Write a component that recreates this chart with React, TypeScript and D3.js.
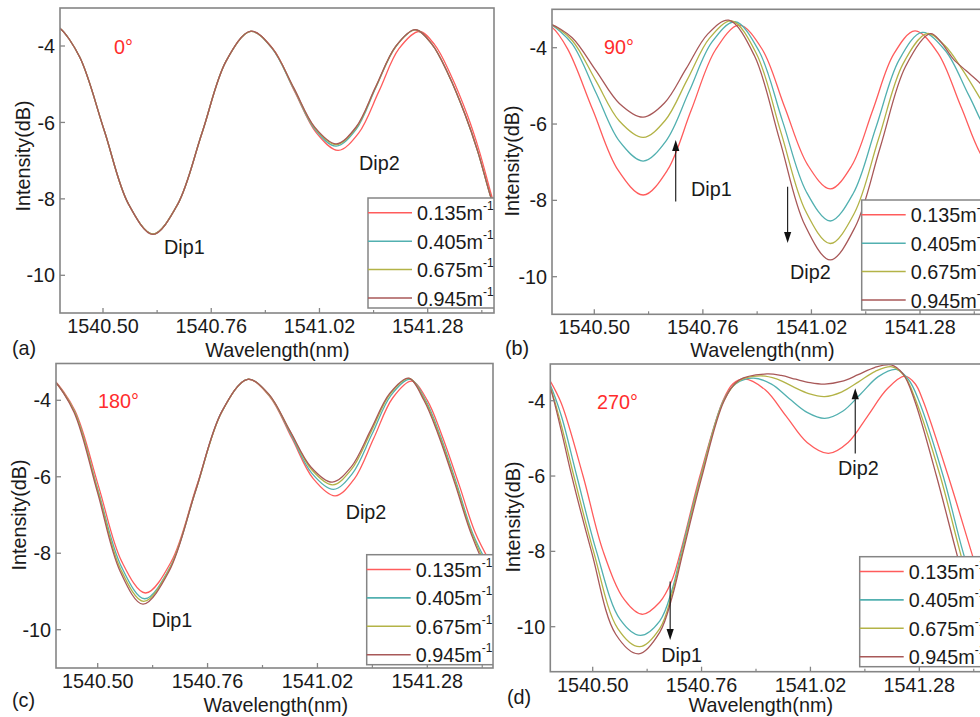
import React from "react";
import * as d3 from "d3";

type Pt = [number, number];

// ---------- axis / legend content ----------
const WL_TICKS = [1540.5, 1540.76, 1541.02, 1541.28];
const WL_MINOR = [1540.63, 1540.89, 1541.15, 1541.41];
const DB_TICKS = [-4, -6, -8, -10];
const CURVATURES = ["0.135", "0.405", "0.675", "0.945"];
const COLORS = ["#ff5c5c", "#52b0b0", "#b3b347", "#a85858"];

// ---------- (a) 0° ----------
const A_0135: Pt[] = [[1540.385,-3.50],[1540.397,-3.54],[1540.444,-4.29],[1540.503,-6.21],[1540.561,-8.13],[1540.620,-8.92],[1540.679,-8.15],[1540.738,-6.27],[1540.796,-4.39],[1540.855,-3.62],[1540.908,-4.07],[1540.960,-5.18],[1541.013,-6.28],[1541.065,-6.73],[1541.114,-6.28],[1541.163,-5.18],[1541.211,-4.07],[1541.260,-3.62],[1541.297,-3.97],[1541.336,-4.77],[1541.375,-5.8],[1541.404,-6.75],[1541.433,-7.9],[1541.46,-8.9]];
const A_0405: Pt[] = [[1540.385,-3.50],[1540.397,-3.54],[1540.444,-4.29],[1540.503,-6.21],[1540.561,-8.13],[1540.620,-8.92],[1540.679,-8.15],[1540.738,-6.27],[1540.796,-4.39],[1540.855,-3.62],[1540.906,-4.06],[1540.958,-5.12],[1541.009,-6.18],[1541.060,-6.62],[1541.108,-6.18],[1541.155,-5.10],[1541.203,-4.02],[1541.250,-3.58],[1541.290,-3.95],[1541.330,-4.75],[1541.370,-5.8],[1541.400,-6.75],[1541.430,-7.9],[1541.46,-8.9]];
const A_0675: Pt[] = [[1540.385,-3.50],[1540.397,-3.54],[1540.444,-4.29],[1540.503,-6.21],[1540.561,-8.13],[1540.620,-8.92],[1540.679,-8.15],[1540.738,-6.27],[1540.796,-4.39],[1540.855,-3.62],[1540.906,-4.05],[1540.958,-5.10],[1541.009,-6.15],[1541.060,-6.58],[1541.108,-6.14],[1541.155,-5.08],[1541.203,-4.02],[1541.250,-3.58],[1541.290,-3.95],[1541.330,-4.75],[1541.370,-5.8],[1541.400,-6.75],[1541.430,-7.9],[1541.46,-8.9]];
const A_0945: Pt[] = [[1540.385,-3.50],[1540.397,-3.54],[1540.444,-4.29],[1540.503,-6.21],[1540.561,-8.13],[1540.620,-8.93],[1540.679,-8.15],[1540.738,-6.27],[1540.796,-4.39],[1540.855,-3.61],[1540.906,-4.05],[1540.958,-5.09],[1541.009,-6.13],[1541.060,-6.56],[1541.108,-6.12],[1541.155,-5.07],[1541.203,-4.01],[1541.250,-3.57],[1541.290,-3.95],[1541.330,-4.75],[1541.370,-5.8],[1541.400,-6.75],[1541.430,-7.9],[1541.46,-8.9]];

// ---------- (b) 90° ----------
const B_0135: Pt[] = [[1540.375,-3.38],[1540.397,-3.45],[1540.436,-4.03],[1540.496,-5.62],[1540.557,-7.21],[1540.617,-7.86],[1540.675,-7.21],[1540.732,-5.64],[1540.790,-4.06],[1540.847,-3.41],[1540.902,-4.04],[1540.956,-5.56],[1541.011,-7.07],[1541.065,-7.70],[1541.116,-7.10],[1541.167,-5.63],[1541.217,-4.17],[1541.268,-3.56],[1541.323,-4.14],[1541.378,-5.54],[1541.433,-6.93],[1541.488,-7.51]];
const B_0405: Pt[] = [[1540.39,-3.38],[1540.397,-3.40],[1540.447,-3.90],[1540.504,-5.18],[1540.560,-6.45],[1540.617,-6.97],[1540.672,-6.44],[1540.727,-5.15],[1540.782,-3.85],[1540.837,-3.32],[1540.894,-4.08],[1540.951,-5.93],[1541.008,-7.78],[1541.065,-8.54],[1541.120,-7.82],[1541.175,-6.07],[1541.230,-4.32],[1541.285,-3.60],[1541.341,-4.08],[1541.397,-5.25],[1541.453,-6.41],[1541.51,-6.89]];
const B_0675: Pt[] = [[1540.39,-3.38],[1540.397,-3.39],[1540.447,-3.81],[1540.504,-4.87],[1540.560,-5.92],[1540.617,-6.35],[1540.670,-5.90],[1540.723,-4.83],[1540.776,-3.75],[1540.829,-3.30],[1540.888,-4.15],[1540.947,-6.22],[1541.006,-8.28],[1541.065,-9.13],[1541.123,-8.33],[1541.181,-6.38],[1541.239,-4.43],[1541.297,-3.63],[1541.34,-3.95],[1541.38,-4.55],[1541.424,-5.33],[1541.46,-6.0]];
const B_0945: Pt[] = [[1540.39,-3.38],[1540.397,-3.39],[1540.447,-3.74],[1540.504,-4.60],[1540.560,-5.46],[1540.617,-5.82],[1540.668,-5.45],[1540.720,-4.55],[1540.771,-3.65],[1540.822,-3.28],[1540.883,-4.20],[1540.944,-6.42],[1541.004,-8.64],[1541.065,-9.56],[1541.125,-8.69],[1541.185,-6.60],[1541.245,-4.50],[1541.305,-3.63],[1541.33,-3.85],[1541.36,-4.3],[1541.39,-4.6],[1541.424,-4.93],[1541.46,-5.4]];

// ---------- (c) 180° ----------
const C_0135: Pt[] = [[1540.39,-3.45],[1540.397,-3.48],[1540.446,-4.27],[1540.502,-6.25],[1540.557,-8.22],[1540.613,-9.04],[1540.674,-8.22],[1540.734,-6.25],[1540.795,-4.27],[1540.855,-3.45],[1540.907,-3.90],[1540.959,-4.98],[1541.010,-6.05],[1541.062,-6.50],[1541.107,-6.06],[1541.153,-5.00],[1541.198,-3.94],[1541.243,-3.50],[1541.28,-4.0],[1541.314,-4.9],[1541.355,-6.2],[1541.393,-7.45],[1541.432,-8.3],[1541.47,-9.0]];
const C_0405: Pt[] = [[1540.39,-3.45],[1540.397,-3.49],[1540.445,-4.29],[1540.500,-6.32],[1540.556,-8.35],[1540.611,-9.19],[1540.672,-8.35],[1540.733,-6.32],[1540.794,-4.29],[1540.855,-3.45],[1540.906,-3.87],[1540.957,-4.89],[1541.007,-5.91],[1541.058,-6.33],[1541.103,-5.91],[1541.149,-4.89],[1541.194,-3.87],[1541.239,-3.45],[1541.276,-4.0],[1541.31,-4.9],[1541.35,-6.2],[1541.388,-7.5],[1541.428,-8.4],[1541.465,-9.1]];
const C_0675: Pt[] = [[1540.39,-3.45],[1540.397,-3.49],[1540.445,-4.30],[1540.500,-6.36],[1540.554,-8.41],[1540.609,-9.26],[1540.670,-8.41],[1540.732,-6.36],[1540.794,-4.30],[1540.855,-3.45],[1540.905,-3.85],[1540.956,-4.83],[1541.006,-5.81],[1541.056,-6.21],[1541.101,-5.80],[1541.147,-4.82],[1541.192,-3.84],[1541.237,-3.43],[1541.274,-4.0],[1541.308,-4.9],[1541.348,-6.2],[1541.386,-7.5],[1541.426,-8.45],[1541.462,-9.1]];
const C_0945: Pt[] = [[1540.39,-3.45],[1540.397,-3.49],[1540.444,-4.31],[1540.499,-6.39],[1540.553,-8.47],[1540.607,-9.33],[1540.669,-8.47],[1540.731,-6.39],[1540.793,-4.31],[1540.855,-3.45],[1540.905,-3.84],[1540.955,-4.80],[1541.005,-5.75],[1541.055,-6.14],[1541.100,-5.74],[1541.146,-4.78],[1541.191,-3.82],[1541.236,-3.42],[1541.272,-4.0],[1541.306,-4.9],[1541.346,-6.2],[1541.384,-7.5],[1541.424,-8.5],[1541.46,-9.1]];

// ---------- (d) 270° ----------
const D_0135: Pt[] = [[1540.37,-3.0],[1540.397,-3.45],[1540.425,-4.07],[1540.477,-6.0],[1540.525,-8.0],[1540.576,-9.29],[1540.618,-9.67],[1540.66,-9.35],[1540.688,-8.8],[1540.71,-8.0],[1540.756,-6.0],[1540.811,-4.0],[1540.835,-3.55],[1540.862,-3.42],[1540.912,-3.71],[1540.962,-4.41],[1541.012,-5.11],[1541.063,-5.40],[1541.110,-5.11],[1541.157,-4.40],[1541.203,-3.69],[1541.245,-3.35],[1541.27,-3.55],[1541.289,-4.0],[1541.349,-6.0],[1541.404,-8.0],[1541.44,-9.3],[1541.48,-10.3]];
const D_0405: Pt[] = [[1540.37,-2.95],[1540.397,-3.54],[1540.425,-4.4],[1540.462,-6.0],[1540.509,-8.0],[1540.565,-9.8],[1540.614,-10.23],[1540.66,-9.85],[1540.69,-9.0],[1540.712,-8.0],[1540.758,-6.0],[1540.812,-4.0],[1540.842,-3.55],[1540.884,-3.40],[1540.927,-3.56],[1540.969,-3.94],[1541.012,-4.31],[1541.054,-4.47],[1541.097,-4.28],[1541.140,-3.82],[1541.182,-3.36],[1541.225,-3.17],[1541.255,-3.45],[1541.279,-4.0],[1541.337,-6.0],[1541.384,-8.0],[1541.42,-9.3],[1541.46,-10.4]];
const D_0675: Pt[] = [[1540.37,-2.9],[1540.397,-3.58],[1540.425,-4.65],[1540.455,-6.0],[1540.502,-8.0],[1540.56,-10.05],[1540.612,-10.53],[1540.66,-10.05],[1540.69,-9.1],[1540.713,-8.05],[1540.759,-6.0],[1540.813,-4.0],[1540.848,-3.48],[1540.90,-3.34],[1540.939,-3.42],[1540.977,-3.62],[1541.016,-3.81],[1541.054,-3.89],[1541.094,-3.77],[1541.135,-3.50],[1541.175,-3.22],[1541.215,-3.10],[1541.245,-3.35],[1541.272,-4.0],[1541.33,-6.0],[1541.377,-8.0],[1541.41,-9.3],[1541.45,-10.4]];
const D_0945: Pt[] = [[1540.37,-2.9],[1540.397,-3.60],[1540.425,-4.8],[1540.45,-6.0],[1540.497,-8.0],[1540.555,-10.2],[1540.61,-10.72],[1540.66,-10.15],[1540.69,-9.2],[1540.714,-8.1],[1540.76,-6.05],[1540.814,-4.0],[1540.85,-3.45],[1540.916,-3.29],[1540.95,-3.33],[1540.985,-3.43],[1541.019,-3.52],[1541.054,-3.56],[1541.094,-3.49],[1541.134,-3.31],[1541.173,-3.12],[1541.213,-3.05],[1541.242,-3.3],[1541.269,-4.0],[1541.321,-6.0],[1541.368,-8.0],[1541.40,-9.3],[1541.44,-10.4]];

// arrows given in data coordinates: [wavelength, fromDb, toDb]
const B_ARROWS: [number, number, number][] = [[1540.695, -8.03, -6.42], [1540.963, -7.64, -9.12]];
const D_ARROWS: [number, number, number][] = [[1540.685, -8.80, -10.35], [1541.127, -5.40, -3.67]];

const FONT = "'Liberation Sans', Arial, Helvetica, sans-serif";
const FRAME = "#858585";
const FS = 19.8;

interface Txt { t: string; x: number; y: number }
interface PanelCfg {
  id: string;
  tag: Txt;
  angle: Txt;
  dips: Txt[];
  series: Pt[][];
  arrows: [number, number, number][];
  xr: [number, number];
  yr: [number, number];
  frame: { l: number; r: number; t: number; b: number };
  legend: { x: number; y: number; w: number };
  xLabel: { x: number; y: number };
  yLabel: { x: number; y: number };
}

const PANELS: PanelCfg[] = [
  {
    id: "a", tag: { t: "(a)", x: 12, y: 355 }, angle: { t: "0°", x: 114, y: 54 },
    dips: [{ t: "Dip1", x: 164, y: 254 }, { t: "Dip2", x: 359, y: 170 }],
    series: [A_0135, A_0405, A_0675, A_0945], arrows: [],
    xr: [103, 427.7], yr: [46, 275.3], frame: { l: 60, r: 494, t: 8, b: 313 },
    legend: { x: 368, y: 198, w: 126 }, xLabel: { x: 277.5, y: 357 }, yLabel: { x: 30, y: 156 },
  },
  {
    id: "b", tag: { t: "(b)", x: 505, y: 355 }, angle: { t: "90°", x: 604, y: 54 },
    dips: [{ t: "Dip1", x: 691, y: 196 }, { t: "Dip2", x: 790, y: 278.5 }],
    series: [B_0135, B_0405, B_0675, B_0945], arrows: B_ARROWS,
    xr: [594.3, 920], yr: [47.7, 276.7], frame: { l: 552, r: 987, t: 9.3, b: 314.3 },
    legend: { x: 861.7, y: 200, w: 130 }, xLabel: { x: 762.5, y: 357 }, yLabel: { x: 519, y: 161 },
  },
  {
    id: "c", tag: { t: "(c)", x: 12, y: 707 }, angle: { t: "180°", x: 98, y: 407.5 },
    dips: [{ t: "Dip1", x: 151.7, y: 627 }, { t: "Dip2", x: 345.7, y: 519 }],
    series: [C_0135, C_0405, C_0675, C_0945], arrows: [],
    xr: [97.7, 427.3], yr: [400.3, 629.7], frame: { l: 56, r: 493, t: 363.5, b: 668 },
    legend: { x: 366.7, y: 554.7, w: 126.3 }, xLabel: { x: 275.8, y: 712 }, yLabel: { x: 26, y: 515 },
  },
  {
    id: "d", tag: { t: "(d)", x: 507, y: 704 }, angle: { t: "270°", x: 597, y: 408.5 },
    dips: [{ t: "Dip1", x: 661.3, y: 662 }, { t: "Dip2", x: 838, y: 475 }],
    series: [D_0135, D_0405, D_0675, D_0945], arrows: D_ARROWS,
    xr: [592.7, 919.3], yr: [400.7, 626.7], frame: { l: 550.3, r: 987, t: 364, b: 671.7 },
    legend: { x: 859.7, y: 556.7, w: 130 }, xLabel: { x: 760.8, y: 712 }, yLabel: { x: 520, y: 517 },
  },
];

const LEG_ROWS = [14.8, 43.2, 71.5, 100];
const LEG_H = 110;

function Panel({ cfg }: { cfg: PanelCfg }) {
  const xs = d3.scaleLinear().domain([WL_TICKS[0], WL_TICKS[3]]).range(cfg.xr);
  const ys = d3.scaleLinear().domain([DB_TICKS[0], DB_TICKS[3]]).range(cfg.yr);
  const line = d3
    .line<Pt>()
    .x((d) => xs(d[0]))
    .y((d) => ys(d[1]))
    .curve(d3.curveCatmullRom.alpha(0.5));
  const f = cfg.frame;
  const clipId = `clip-${cfg.id}`;
  const lg = cfg.legend;
  return (
    <g>
      <defs>
        <clipPath id={clipId}>
          <rect x={f.l} y={f.t} width={f.r - f.l} height={f.b - f.t} />
        </clipPath>
      </defs>
      <rect x={f.l} y={f.t} width={f.r - f.l} height={f.b - f.t} fill="#fff" />
      <g clipPath={`url(#${clipId})`}>
        {cfg.series.map((s, i) => (
          <path key={i} d={line(s) || ""} fill="none" stroke={COLORS[i]} strokeWidth={1.3} strokeLinejoin="round" />
        ))}
      </g>
      {/* frame */}
      <rect x={f.l} y={f.t} width={f.r - f.l} height={f.b - f.t} fill="none" stroke={FRAME} strokeWidth={1.6} />
      {/* x ticks */}
      {WL_TICKS.map((t) => (
        <g key={t}>
          <line x1={xs(t)} x2={xs(t)} y1={f.b} y2={f.b - 5} stroke={FRAME} strokeWidth={1.3} />
          <text x={xs(t)} y={f.b + 20} textAnchor="middle" fontSize={FS} fontFamily={FONT} fill="#1a1a1a">
            {t.toFixed(2)}
          </text>
        </g>
      ))}
      {WL_MINOR.map((t) => (
        <line key={t} x1={xs(t)} x2={xs(t)} y1={f.b} y2={f.b - 3} stroke={FRAME} strokeWidth={1.2} />
      ))}
      {/* y ticks */}
      {DB_TICKS.map((t) => (
        <g key={t}>
          <line x1={f.l} x2={f.l + 5} y1={ys(t)} y2={ys(t)} stroke={FRAME} strokeWidth={1.3} />
          <text x={f.l - 5} y={ys(t)} dy="0.36em" textAnchor="end" fontSize={FS} fontFamily={FONT} fill="#1a1a1a">
            {String(t)}
          </text>
        </g>
      ))}
      {/* axis titles */}
      <text x={cfg.xLabel.x} y={cfg.xLabel.y} textAnchor="middle" fontSize={FS} fontFamily={FONT} fill="#1a1a1a">
        Wavelength(nm)
      </text>
      <text
        transform={`translate(${cfg.yLabel.x},${cfg.yLabel.y}) rotate(-90)`}
        textAnchor="middle"
        fontSize={FS}
        fontFamily={FONT}
        fill="#1a1a1a"
      >
        Intensity(dB)
      </text>
      <text x={cfg.tag.x} y={cfg.tag.y} fontSize={FS} fontFamily={FONT} fill="#1a1a1a">
        {cfg.tag.t}
      </text>
      {/* annotations */}
      <text x={cfg.angle.x} y={cfg.angle.y} fontSize={FS} fontFamily={FONT} fill="#ff2d2d">
        {cfg.angle.t}
      </text>
      {cfg.dips.map((d) => (
        <text key={d.t} x={d.x} y={d.y} fontSize={FS} fontFamily={FONT} fill="#1a1a1a">
          {d.t}
        </text>
      ))}
      {cfg.arrows.map(([wl, from, to], i) => {
        const x = xs(wl);
        const y0 = ys(from);
        const y1 = ys(to);
        const dir = y1 > y0 ? 1 : -1;
        const hb = y1 - dir * 11;
        return (
          <g key={i}>
            <line x1={x} x2={x} y1={y0} y2={hb} stroke="#111" strokeWidth={1.1} />
            <polygon points={`${x},${y1} ${x - 3.6},${hb} ${x + 3.6},${hb}`} fill="#111" />
          </g>
        );
      })}
      {/* legend */}
      <g clipPath={`url(#${clipId})`}>
        <rect x={lg.x} y={lg.y} width={lg.w} height={LEG_H} fill="#fff" stroke={FRAME} strokeWidth={1.5} />
        {CURVATURES.map((c, i) => (
          <g key={c}>
            <line x1={lg.x} x2={lg.x + 44} y1={lg.y + LEG_ROWS[i]} y2={lg.y + LEG_ROWS[i]} stroke={COLORS[i]} strokeWidth={1.6} />
            <text x={lg.x + 49} y={lg.y + LEG_ROWS[i] + 7.5} fontSize={FS} fontFamily={FONT} fill="#1a1a1a">
              {c}m
              <tspan fontSize={12} dy={-10}>-1</tspan>
            </text>
          </g>
        ))}
      </g>
    </g>
  );
}

export default function App() {
  return (
    <svg
      width={980}
      height={717}
      viewBox="0 0 980 717"
      style={{ position: "absolute", left: 0, top: 0, background: "#fff" }}
    >
      <rect x={0} y={0} width={980} height={717} fill="#fff" />
      {PANELS.map((p) => (
        <Panel key={p.id} cfg={p} />
      ))}
    </svg>
  );
}
